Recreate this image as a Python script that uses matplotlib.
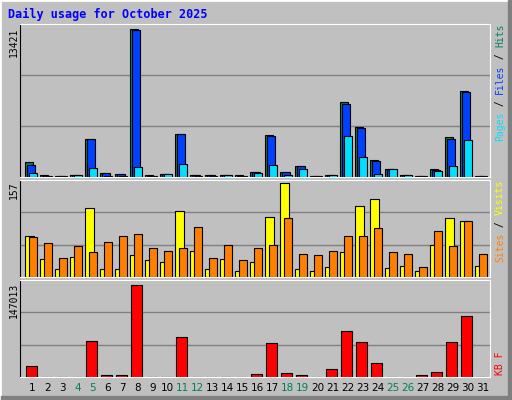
"""Webalizer-style daily usage chart for October 2025."""

import matplotlib
matplotlib.use("Agg")
import matplotlib.pyplot as plt
from matplotlib.patches import Rectangle

days = list(range(1, 32))
weekend = [4, 5, 11, 12, 18, 19, 25, 26]

hits = [1400, 210, 100, 210, 3490, 395, 300, 13421, 210, 300, 3860, 210, 210, 210, 210, 486,
        3770, 486, 1030, 100, 210, 6780, 4500, 1580, 760, 210, 100, 760, 3590, 7780, 100]
files = [1120, 120, 100, 210, 3490, 395, 300, 13300, 120, 300, 3860, 210, 210, 210, 120, 486,
         3680, 486, 1030, 100, 210, 6600, 4400, 1490, 760, 210, 100, 670, 3490, 7690, 100]
pages = [395, 120, 100, 210, 850, 120, 120, 940, 120, 300, 1215, 120, 120, 210, 120, 395,
         1120, 210, 760, 100, 210, 3680, 1850, 300, 760, 210, 100, 580, 1030, 3400, 100]

visits = [69, 30, 13, 33, 115, 13, 13, 36, 28, 25, 110, 43, 13, 30, 10, 25,
          100, 157, 13, 10, 16, 41, 118, 131, 15, 18, 10, 54, 99, 94, 18]
sites = [66, 56, 31, 52, 41, 59, 69, 71, 48, 44, 48, 84, 31, 54, 28, 48,
         54, 99, 38, 36, 44, 69, 69, 82, 41, 38, 16, 77, 52, 94, 38]

kbytes = [17750, 500, 500, 500, 58100, 3200, 3200, 147013, 500, 500, 64600, 500, 500, 500, 500,
          4800, 54900, 6500, 3200, 500, 12900, 74200, 56500, 22600, 500, 500, 3200, 8100,
          56500, 96800, 500]

C_HITS, C_FILES, C_PAGES = "#00805c", "#0040ff", "#00e0ff"
C_VISITS, C_SITES, C_KB = "#ffff00", "#ff8000", "#ff0000"
BG = "#c0c0c0"
W, H = 512, 400

fig = plt.figure(figsize=(5.12, 4.0), dpi=100, facecolor=BG)

# bevelled outer frame
fig.patches.append(Rectangle((0, 0), 1, 1, transform=fig.transFigure, fill=False,
                             edgecolor="white", linewidth=2))
fig.patches.append(Rectangle((0.5 / W, 0), 1 - 1 / W, 4 / H, transform=fig.transFigure,
                             color="#808080"))
fig.patches.append(Rectangle((1 - 4 / W, 0), 4 / W, 1, transform=fig.transFigure,
                             color="#808080"))


def panel(top, bottom):
    ax = fig.add_axes([20 / W, 1 - bottom / H, 470 / W, (bottom - top) / H])
    ax.set_facecolor(BG)
    ax.set_xlim(0, 470)
    ax.set_xticks([])
    ax.set_yticks([])
    for s in ["top", "right", "bottom"]:
        ax.spines[s].set_color("white")
    ax.spines["left"].set_color("black")
    return ax


def grid(ax, top):
    for f in (1 / 3, 2 / 3):
        ax.axhline(top * f, color="#808080", linewidth=1, zorder=0)


slots = [15 * (d - 1) for d in days]
kw = dict(align="edge", edgecolor="black", linewidth=0.8)

ax1 = panel(24, 177)
ymax1 = max(hits) * 153 / 148
ax1.set_ylim(0, ymax1)
grid(ax1, ymax1)
ax1.bar([s + 5 for s in slots], hits, width=8, color=C_HITS, **kw)
ax1.bar([s + 7.3 for s in slots], files, width=7.3, color=C_FILES, **kw)
ax1.bar([s + 9.3 for s in slots], pages, width=7.3, color=C_PAGES, **kw)

ax2 = panel(180, 277)
ymax2 = max(visits) * 97 / 94
ax2.set_ylim(0, ymax2)
grid(ax2, ymax2)
ax2.bar([s + 5 for s in slots], visits, width=8.7, color=C_VISITS, **kw)
ax2.bar([s + 9 for s in slots], sites, width=7.7, color=C_SITES, **kw)

ax3 = panel(280, 377)
ymax3 = max(kbytes) * 97 / 92
ax3.set_ylim(0, ymax3)
grid(ax3, ymax3)
ax3.bar([s + 6 for s in slots], kbytes, width=10.7, color=C_KB, **kw)

mono = "DejaVu Sans Mono"


def px(x, y):
    return x / W, 1 - y / H


fig.text(*px(8, 14), "Daily usage for October 2025", color="#0000ff", fontsize=8.5,
         fontweight="bold", family=mono, va="center", ha="left")

for d, s in zip(days, slots):
    fig.text(*px(20 + s + 12.5, 388), str(d), fontsize=7.5, family="DejaVu Sans",
             color=C_HITS if d in weekend else "black", ha="center", va="center")

for top_px, label in [(28, f"{max(hits)}"), (181, f"{max(visits)}"), (283, f"{max(kbytes)}")]:
    fig.text(*px(14, top_px), label, rotation=90, fontsize=7, family=mono,
             ha="center", va="top")


def side_label(top_px, pieces, size=7):
    # rotated monospace pieces stacked from the top down, last piece on top
    cw = size * 100 / 72 * 0.602
    y = top_px
    for text, col in reversed(pieces):
        fig.text(*px(500, y + cw * len(text) / 2), text, rotation=90, fontsize=size,
                 family=mono, color=col, ha="center", va="center")
        y += cw * len(text)


side_label(24, [("Pages", C_PAGES), (" / ", "black"), ("Files", C_FILES),
                (" / ", "black"), ("Hits", C_HITS)])
side_label(180, [("Sites", C_SITES), (" / ", "black"), ("Visits", C_VISITS)])
side_label(352, [("KB F", C_KB)])

fig.savefig("out.png", dpi=100, facecolor=BG)
